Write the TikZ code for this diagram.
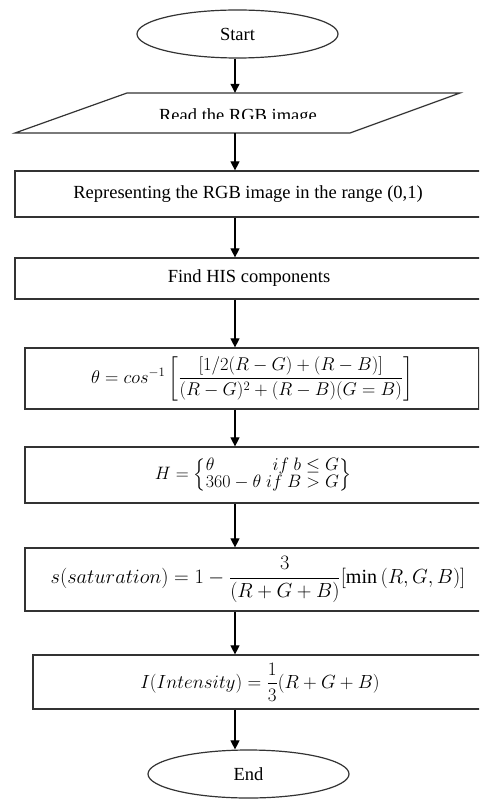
\documentclass[tikz,border=0pt]{standalone}
\usepackage{amsmath}
\usepackage{graphicx}
\usepackage{fontspec}
\setmainfont{Liberation Serif}
\usetikzlibrary{shapes.geometric,arrows.meta}
\tikzset{
  lnc/.style={draw=black!80, line width=1.2pt},
  term/.style={lnc, ellipse, inner sep=0pt, font=\fontsize{18.5}{20}\selectfont},
  pbox/.style={lnc, rectangle, inner sep=0pt, font=\fontsize{18.5}{20}\selectfont},
  mbox/.style={lnc, rectangle, inner sep=0pt, font=\fontsize{17}{19}\selectfont},
  arr/.style={draw=black, line width=1.1pt, -{Triangle[width=9pt,length=9pt]}},
}
\begin{document}
\begin{tikzpicture}[x=1pt,y=-1pt]
\useasboundingbox (0,0) rectangle (479,799);
\clip (0,0) rectangle (479,799);
\fill[white] (0,0) rectangle (479,799);
\coordinate (ax) at (235,0);
% Start
\node[term, minimum width=201pt, minimum height=48pt] (start) at (237.5,34) {Start};
% Read (parallelogram)
\node[rectangle, inner sep=0pt, minimum width=200pt, minimum height=40pt] (read) at (238,113) {};
\draw[lnc, line join=miter] (127,93) -- (460,93) -- (350,133) -- (15,133) -- cycle;
\begin{scope}
\clip (0,90) rectangle (479,118.5);
\node[anchor=base, inner sep=0pt, font=\fontsize{18.5}{20}\selectfont] (readtxt) at (238,122) {Read the RGB image};
\end{scope}
% Boxes
\node[pbox, minimum width=466pt, minimum height=46pt] (rep) at (248,194) {Representing the RGB image in the range (0,1)};
\node[pbox, minimum width=468pt, minimum height=41pt] (his) at (249,278.5) {Find HIS components};
\node[mbox, minimum width=454pt, minimum height=61pt] (theta) at (252,378.5)
  {\scalebox{1.07}{$\theta = cos^{-1}\left[\dfrac{[1/2(R-G)+(R-B)]}{(R-G)^2+(R-B)(G=B)}\right]$}};
\node[mbox, minimum width=456pt, minimum height=56pt] (hbox) at (253,475)
  {\scalebox{1.04}{$H=\left\{\renewcommand{\arraystretch}{0.8}\begin{array}{@{}l@{\;}r@{}}\theta & if\ b\le G\\ 360-\theta & if\ B>G\end{array}\right\}$}};
\node[mbox, minimum width=466pt, minimum height=63pt] (sbox) at (258,579.5)
  {\scalebox{1.18}{$s(saturation)=1-\dfrac{3}{(R+G+B)}[\min{(R,G,B)}]$}};
\node[mbox, minimum width=454pt, minimum height=54pt] (ibox) at (260,682)
  {\scalebox{1.1}{$I(Intensity)=\dfrac{1}{3}(R+G+B)$}};
% End
\node[term, minimum width=201pt, minimum height=48pt] (end) at (248.5,774) {End};
% Connectors
\draw[arr] (ax |- start.south) -- (ax |- read.north);
\draw[arr] (ax |- read.south) -- (ax |- rep.north);
\draw[arr] (ax |- rep.south) -- (ax |- his.north);
\draw[arr] (ax |- his.south) -- (ax |- theta.north);
\draw[arr] (ax |- theta.south) -- (ax |- hbox.north);
\draw[arr] (ax |- hbox.south) -- (ax |- sbox.north);
\draw[arr] (ax |- sbox.south) -- (ax |- ibox.north);
\draw[arr] (ax |- ibox.south) -- (ax |- end.north);
\end{tikzpicture}
\end{document}
